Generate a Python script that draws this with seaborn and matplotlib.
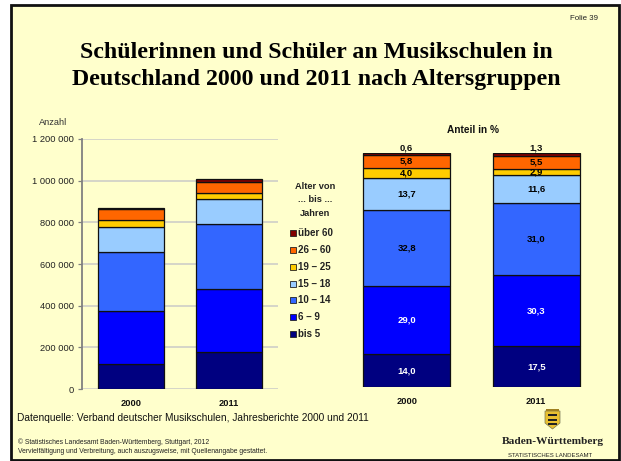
import matplotlib
matplotlib.use('Agg')
import matplotlib.pyplot as plt
from matplotlib.patches import Rectangle, Polygon
import pandas as pd
import seaborn as sns

jahre = ['2000', '2011']
gruppen = ['bis 5', '6 – 9', '10 – 14', '15 – 18', '19 – 25', '26 – 60', 'über 60']
farben = ['#000080', '#0000FF', '#3366FF', '#99CCFF', '#FFCC00', '#FF6600', '#800000']

# Anzahl
anzahl_2000 = [121000, 252000, 285000, 119000, 35000, 50000, 5000]
anzahl_2011 = [176000, 305000, 312000, 117000, 29000, 55000, 13000]
# Anteil in %
anteil_2000 = [14.0, 29.0, 32.8, 13.7, 4.0, 5.8, 0.6]
anteil_2011 = [17.5, 30.3, 31.0, 11.6, 2.9, 5.5, 1.3]

y_ticks = [0, 200000, 400000, 600000, 800000, 1000000, 1200000]
y_labels = ['0', '200 000', '400 000', '600 000', '800 000', '1 000 000', '1 200 000']

W, H = 621, 461
BG = '#FFFFCC'
GREY = '#808080'
SANS = 'Liberation Sans'
SERIF = 'Liberation Serif'


def px_axes(fig, x0, y0, x1, y1):
    # y in Bildpixeln von oben
    return fig.add_axes([x0 / W, 1 - y1 / H, (x1 - x0) / W, (y1 - y0) / H])


def gestapelt(ax, a, b):
    df = pd.DataFrame({'jahr': jahre * 7,
                       'gruppe': [g for g in gruppen for _ in jahre],
                       'wert': [v for p in zip(a, b) for v in p]})
    unten = [0, 0]
    for g, farbe in zip(gruppen, farben):
        teil = df[df['gruppe'] == g]
        sns.barplot(data=teil, x='jahr', y='wert', ax=ax, color=farbe, width=0.67,
                    bottom=unten, saturation=1, edgecolor='#101010', linewidth=0.9, errorbar=None)
        unten = [u + w for u, w in zip(unten, teil['wert'])]
    ax.set_xlabel('')
    ax.set_ylabel('')
    ax.set_facecolor('none')


sns.set_theme(style='white')
plt.rcParams['font.family'] = [SANS, 'DejaVu Sans']

fig = plt.figure(figsize=(W / 100, H / 100), dpi=100, facecolor='white')

# Folienhintergrund
bg = fig.add_axes([0, 0, 1, 1])
bg.set_xlim(0, W)
bg.set_ylim(H, 0)
bg.axis('off')
bg.add_patch(Rectangle((11, 5.5), 607.5, 454.5, facecolor=BG, edgecolor='#111111', linewidth=2))

# linkes Diagramm
ax1 = px_axes(fig, 82, 139, 278, 389)
gestapelt(ax1, anzahl_2000, anzahl_2011)
ax1.set_ylim(0, 1200000)
ax1.set_yticks(y_ticks)
ax1.set_yticklabels(y_labels, fontsize=6.7, color='#222222')
ax1.yaxis.grid(True, color='#D2D2C8', linewidth=1.3)
ax1.set_axisbelow(True)
ax1.tick_params(axis='y', left=True, length=3, width=0.9, color=GREY, pad=2.5)
ax1.tick_params(axis='x', bottom=False, length=0, pad=7)
for lab in ax1.get_xticklabels():
    lab.set_fontsize(6.7)
    lab.set_fontweight('bold')
    lab.set_color('#111111')
sns.despine(ax=ax1, top=True, right=True, bottom=True)
ax1.spines['left'].set_color(GREY)
ax1.spines['left'].set_linewidth(1.3)

# rechtes Diagramm
ax2 = px_axes(fig, 342, 153, 601, 387)
gestapelt(ax2, anteil_2000, anteil_2011)
ax2.set_ylim(0, 100)
ax2.set_yticks([])
ax2.tick_params(axis='x', bottom=False, length=0, pad=7)
for lab in ax2.get_xticklabels():
    lab.set_fontsize(6.7)
    lab.set_fontweight('bold')
    lab.set_color('#111111')
sns.despine(ax=ax2, left=True, top=True, right=True, bottom=True)

for i, werte in enumerate([anteil_2000, anteil_2011]):
    unten = 0
    for j, w in enumerate(werte):
        txt = f'{w:.1f}'.replace('.', ',')
        col = 'white' if j < 2 else 'black'
        if j == 6:
            ax2.text(i, 100.4, txt, ha='center', va='bottom', fontsize=6.8,
                     fontweight='bold', color='#111111')
        else:
            ax2.text(i, unten + w / 2, txt, ha='center', va='center', fontsize=6.8,
                     fontweight='bold', color=col)
        unten += w

# Legende von Hand, wie in der Vorlage
for k, (y, g) in enumerate(zip([334, 317, 300, 284, 267, 250, 233], gruppen)):
    bg.add_patch(Rectangle((290, y - 2.8), 5.5, 5.5, facecolor=farben[k], edgecolor='#222222', linewidth=0.6))
    bg.text(298, y, g, fontsize=7, fontweight='bold', va='center', color='#222222')
for y, s in zip([186, 199.5, 213], ['Alter von', '... bis ...', 'Jahren']):
    bg.text(315.5, y, s, fontsize=6.7, fontweight='bold', ha='center', va='center', color='#222222')

# Texte
bg.text(53, 122.5, 'Anzahl', fontsize=6.7, ha='center', va='center', color='#333333')
bg.text(473, 129.5, 'Anteil in %', fontsize=7.3, fontweight='bold', ha='center', va='center', color='#111111')
bg.text(584, 18, 'Folie 39', fontsize=5.7, ha='center', va='center', color='#222222')
bg.text(316, 52, 'Schülerinnen und Schüler an Musikschulen in', fontsize=17.2, fontfamily=SERIF,
        fontweight='bold', ha='center', va='center', color='black')
bg.text(316, 80, 'Deutschland 2000 und 2011 nach Altersgruppen', fontsize=17.2, fontfamily=SERIF,
        fontweight='bold', ha='center', va='center', color='black')
bg.text(17, 418, 'Datenquelle: Verband deutscher Musikschulen, Jahresberichte 2000 und 2011',
        fontsize=7.3, va='center', color='#111111')
bg.text(18, 442, '© Statistisches Landesamt Baden-Württemberg, Stuttgart, 2012', fontsize=4.9,
        va='center', color='#222222')
bg.text(18, 451, 'Vervielfältigung und Verbreitung, auch auszugsweise, mit Quellenangabe gestattet.',
        fontsize=4.9, va='center', color='#222222')

# Wappen
bg.add_patch(Polygon([(545, 411), (560, 411), (560, 423), (552.5, 429), (545, 423)], closed=True,
                     facecolor='#E8C030', edgecolor='#777755', linewidth=0.5))
for y in [415, 419.5, 424]:
    bg.add_patch(Rectangle((548, y - 1), 9, 2, facecolor='#222222', edgecolor='none'))
bg.add_patch(Rectangle((546, 408.5), 13, 2.5, facecolor='#A08020', edgecolor='none'))
bg.text(552.5, 441, 'Baden-Württemberg', fontsize=8.2, fontfamily=SERIF, fontweight='bold',
        ha='center', va='center', color='#222222')
bg.text(550, 455, 'STATISTISCHES LANDESAMT', fontsize=4.3, ha='center', va='center', color='#222222')

fig.savefig('out.png', dpi=100, facecolor='white')
